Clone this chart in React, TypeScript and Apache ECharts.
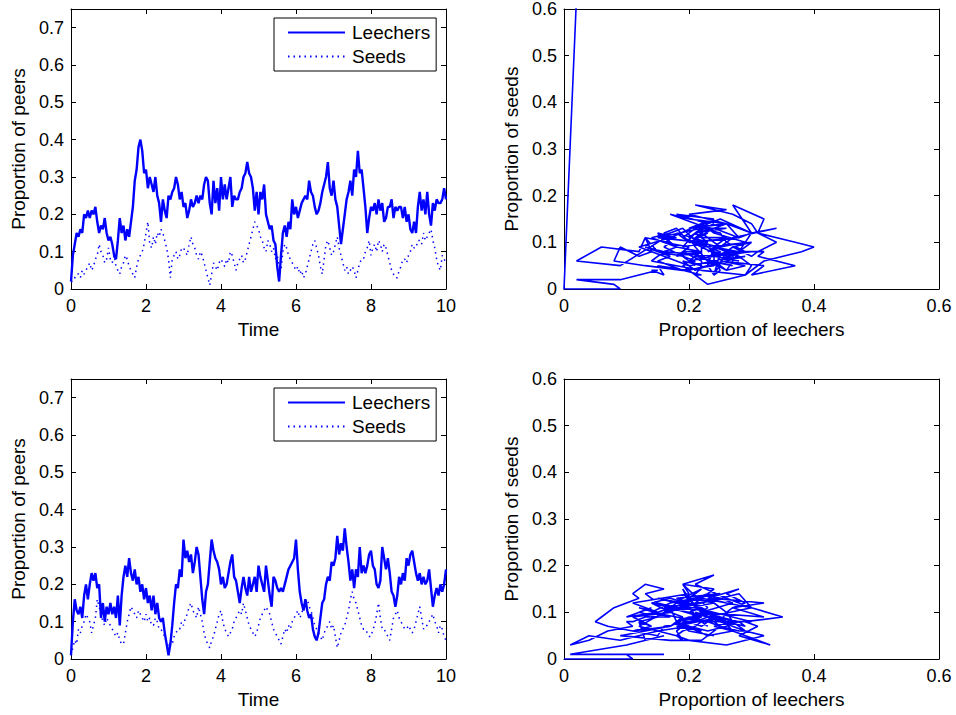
import React, { useEffect, useRef } from "react";
import * as echarts from "echarts";

// Time step between consecutive samples (time axis runs 0..10)
const TIME_STEP = 0.05;

// Run 1 (top row)
const LEECHERS_1 = [
  0.02,0.09,0.12,0.15,0.14,0.16,0.15,0.20,0.19,0.21,0.19,0.21,0.20,0.22,0.18,0.15,0.17,0.16,0.19,0.15,
  0.13,0.14,0.12,0.09,0.08,0.13,0.19,0.15,0.17,0.13,0.16,0.14,0.18,0.22,0.29,0.32,0.38,0.40,0.37,0.31,
  0.32,0.27,0.30,0.28,0.26,0.30,0.25,0.23,0.18,0.24,0.21,0.19,0.25,0.24,0.26,0.27,0.30,0.28,0.24,0.26,
  0.22,0.23,0.19,0.21,0.24,0.22,0.23,0.25,0.23,0.25,0.24,0.28,0.30,0.29,0.23,0.20,0.29,0.23,0.27,0.21,
  0.30,0.24,0.28,0.24,0.27,0.30,0.22,0.25,0.24,0.24,0.26,0.27,0.30,0.31,0.34,0.31,0.30,0.27,0.21,0.26,
  0.20,0.26,0.24,0.28,0.20,0.18,0.16,0.17,0.13,0.12,0.06,0.02,0.09,0.15,0.17,0.14,0.18,0.16,0.24,0.20,
  0.22,0.19,0.21,0.23,0.24,0.25,0.24,0.29,0.26,0.25,0.22,0.20,0.21,0.23,0.26,0.28,0.30,0.34,0.27,0.25,
  0.29,0.24,0.22,0.17,0.12,0.16,0.20,0.24,0.26,0.29,0.25,0.32,0.30,0.37,0.31,0.32,0.27,0.22,0.15,0.19,
  0.22,0.21,0.23,0.20,0.24,0.21,0.23,0.18,0.19,0.22,0.22,0.24,0.19,0.22,0.21,0.22,0.22,0.19,0.22,0.18,
  0.20,0.16,0.15,0.18,0.15,0.22,0.26,0.21,0.24,0.20,0.26,0.20,0.17,0.23,0.21,0.24,0.23,0.23,0.24,0.27,
  0.24,
];
const SEEDS_1 = [
  0.02,0.02,0.03,0.04,0.04,0.03,0.05,0.04,0.05,0.06,0.07,0.05,0.06,0.08,0.09,0.12,0.10,0.09,0.07,0.08,
  0.11,0.08,0.07,0.09,0.06,0.05,0.04,0.06,0.07,0.09,0.08,0.06,0.05,0.04,0.03,0.06,0.08,0.09,0.10,0.12,
  0.15,0.18,0.12,0.11,0.14,0.12,0.15,0.14,0.16,0.15,0.13,0.11,0.08,0.03,0.08,0.09,0.10,0.08,0.09,0.11,
  0.11,0.10,0.09,0.12,0.14,0.12,0.11,0.09,0.08,0.10,0.09,0.07,0.05,0.03,0.01,0.04,0.07,0.06,0.05,0.07,
  0.08,0.07,0.06,0.08,0.07,0.10,0.09,0.07,0.05,0.07,0.08,0.09,0.07,0.08,0.10,0.12,0.14,0.16,0.18,0.17,
  0.16,0.14,0.13,0.11,0.10,0.13,0.12,0.10,0.11,0.08,0.09,0.06,0.05,0.10,0.12,0.11,0.09,0.08,0.07,0.06,
  0.05,0.06,0.04,0.05,0.03,0.04,0.06,0.08,0.10,0.12,0.13,0.11,0.09,0.06,0.04,0.08,0.12,0.13,0.11,0.09,
  0.10,0.12,0.14,0.11,0.09,0.07,0.05,0.06,0.04,0.05,0.06,0.05,0.03,0.05,0.07,0.08,0.08,0.10,0.11,0.13,
  0.09,0.11,0.12,0.10,0.13,0.12,0.10,0.12,0.11,0.09,0.07,0.05,0.04,0.03,0.03,0.05,0.06,0.08,0.08,0.07,
  0.09,0.10,0.12,0.11,0.11,0.13,0.13,0.12,0.15,0.13,0.14,0.15,0.16,0.13,0.11,0.08,0.06,0.05,0.09,0.08,
  0.07,
];

// Run 2 (bottom row)
const LEECHERS_2 = [
  0.01,0.10,0.16,0.13,0.12,0.14,0.11,0.17,0.20,0.16,0.20,0.23,0.21,0.23,0.19,0.20,0.11,0.15,0.10,0.14,
  0.12,0.15,0.12,0.14,0.11,0.17,0.09,0.17,0.22,0.25,0.22,0.27,0.23,0.21,0.24,0.20,0.22,0.18,0.20,0.16,
  0.19,0.15,0.17,0.13,0.17,0.12,0.15,0.11,0.10,0.11,0.07,0.04,0.01,0.04,0.09,0.15,0.20,0.19,0.24,0.22,
  0.32,0.27,0.29,0.26,0.28,0.23,0.26,0.30,0.28,0.22,0.16,0.12,0.18,0.20,0.26,0.32,0.29,0.27,0.26,0.24,
  0.20,0.22,0.19,0.20,0.23,0.26,0.28,0.22,0.21,0.18,0.15,0.19,0.22,0.19,0.17,0.22,0.18,0.20,0.22,0.18,
  0.25,0.22,0.20,0.18,0.25,0.21,0.17,0.14,0.22,0.21,0.19,0.18,0.19,0.18,0.20,0.22,0.24,0.25,0.26,0.27,
  0.32,0.24,0.18,0.15,0.13,0.16,0.13,0.11,0.12,0.08,0.06,0.05,0.07,0.11,0.15,0.16,0.20,0.22,0.21,0.26,
  0.25,0.27,0.33,0.28,0.31,0.29,0.35,0.30,0.26,0.21,0.24,0.19,0.24,0.22,0.30,0.23,0.25,0.23,0.25,0.28,
  0.29,0.25,0.24,0.20,0.19,0.21,0.30,0.27,0.24,0.27,0.23,0.18,0.17,0.14,0.17,0.22,0.20,0.23,0.21,0.27,
  0.25,0.28,0.29,0.26,0.23,0.21,0.23,0.20,0.22,0.20,0.21,0.24,0.19,0.14,0.17,0.19,0.17,0.20,0.18,0.20,
  0.24,
];
const SEEDS_2 = [
  0.01,0.03,0.05,0.04,0.08,0.07,0.09,0.10,0.12,0.11,0.10,0.07,0.09,0.11,0.16,0.14,0.12,0.10,0.09,0.11,
  0.10,0.09,0.08,0.07,0.06,0.07,0.05,0.04,0.04,0.07,0.10,0.12,0.14,0.13,0.12,0.11,0.13,0.12,0.11,0.10,
  0.12,0.10,0.11,0.09,0.09,0.11,0.10,0.08,0.08,0.07,0.06,0.04,0.03,0.05,0.04,0.06,0.07,0.08,0.08,0.10,
  0.09,0.11,0.12,0.14,0.15,0.13,0.12,0.11,0.14,0.12,0.10,0.07,0.05,0.04,0.03,0.05,0.06,0.08,0.10,0.12,
  0.13,0.10,0.08,0.07,0.06,0.07,0.08,0.10,0.11,0.12,0.13,0.12,0.15,0.13,0.11,0.09,0.08,0.07,0.06,0.07,
  0.09,0.11,0.12,0.13,0.14,0.13,0.12,0.10,0.08,0.07,0.06,0.05,0.04,0.06,0.08,0.07,0.09,0.08,0.10,0.11,
  0.12,0.13,0.11,0.12,0.14,0.15,0.16,0.14,0.13,0.11,0.09,0.08,0.07,0.06,0.05,0.07,0.08,0.09,0.10,0.08,
  0.09,0.06,0.03,0.05,0.07,0.08,0.09,0.11,0.13,0.16,0.18,0.16,0.15,0.13,0.11,0.09,0.08,0.08,0.07,0.06,
  0.06,0.08,0.09,0.12,0.15,0.11,0.08,0.08,0.07,0.06,0.05,0.08,0.11,0.12,0.13,0.11,0.10,0.09,0.08,0.08,
  0.09,0.08,0.07,0.08,0.10,0.12,0.14,0.11,0.08,0.09,0.09,0.10,0.11,0.12,0.10,0.09,0.07,0.09,0.08,0.06,
  0.05,
];

// Initial (leechers, seeds) states drawn before each trajectory in the phase plots
const PHASE_START_1: [number, number][] = [[0.032, 1.0], [0, 0], [0.09, 0], [0.08, 0.01]];
const PHASE_START_2: [number, number][] = [[0, 0], [0.11, 0], [0.1, 0.01], [0.16, 0.01]];

const LEGEND_NAMES = ["Leechers", "Seeds"];
const FONT = "'Liberation Sans', Arial, Helvetica, sans-serif";
const BLUE = "#0000ff";

function timeSeries(values: number[]) {
  return values.map((v, i) => [i * TIME_STEP, v]);
}
function phase(start: [number, number][], L: number[], S: number[]) {
  return [...start, ...L.map((l, i) => [l, S[i]])];
}

const GRIDS = [
  { left: 71, top: 9, width: 375, height: 280 },
  { left: 564, top: 9, width: 375, height: 280 },
  { left: 71, top: 379, width: 375, height: 280 },
  { left: 564, top: 379, width: 375, height: 280 },
];

function fmt(v: number) {
  return String(Math.round(v * 100) / 100);
}

function axes(g: number, x: [number, number, number], y: [number, number, number], xName: string, yName: string) {
  const line = { show: true, onZero: false, lineStyle: { color: "#000", width: 1 } };
  const tick = { show: true, inside: true, length: 5, lineStyle: { color: "#000", width: 1 } };
  const label = { fontSize: 18, color: "#000", fontFamily: FONT, formatter: fmt };
  const nameStyle = { fontSize: 19, color: "#000", fontFamily: FONT };
  const xa = [
    {
      type: "value", gridIndex: g, position: "bottom", min: x[0], max: x[1], interval: x[2],
      name: xName, nameLocation: "middle", nameGap: 31, nameTextStyle: nameStyle,
      axisLine: line, axisTick: tick, axisLabel: { ...label, margin: 8, showMaxLabel: true },
      splitLine: { show: false },
    },
    {
      type: "value", gridIndex: g, position: "top", min: x[0], max: x[1], interval: x[2],
      axisLine: line, axisTick: tick, axisLabel: { show: false }, splitLine: { show: false },
    },
  ];
  const ya = [
    {
      type: "value", gridIndex: g, position: "left", min: y[0], max: y[1], interval: y[2],
      name: yName, nameLocation: "middle", nameGap: 43, nameTextStyle: nameStyle,
      axisLine: line, axisTick: tick,
      axisLabel: { ...label, margin: 7, showMaxLabel: y[1] === 0.6 },
      splitLine: { show: false },
    },
    {
      type: "value", gridIndex: g, position: "right", min: y[0], max: y[1], interval: y[2],
      axisLine: line, axisTick: tick, axisLabel: { show: false }, splitLine: { show: false },
    },
  ];
  return { xa, ya };
}

export default function App() {
  const ref = useRef<HTMLDivElement>(null);
  useEffect(() => {
    if (!ref.current) return;
    const chart = echarts.init(ref.current, undefined, { renderer: "svg" });
    const a0 = axes(0, [0, 10, 2], [0, 0.75, 0.1], "Time", "Proportion of peers");
    const a1 = axes(1, [0, 0.6, 0.2], [0, 0.6, 0.1], "Proportion of leechers", "Proportion of seeds");
    const a2 = axes(2, [0, 10, 2], [0, 0.75, 0.1], "Time", "Proportion of peers");
    const a3 = axes(3, [0, 0.6, 0.2], [0, 0.6, 0.1], "Proportion of leechers", "Proportion of seeds");

    const leechLine = { color: BLUE, width: 2.4 };
    const seedLine = { color: BLUE, width: 1.5, type: [1.5, 4] };
    const phaseLine = { color: BLUE, width: 1.6 };
    const common = { type: "line", symbol: "none", showSymbol: false, color: BLUE, clip: true };

    const legendBase = {
      data: LEGEND_NAMES,
      orient: "vertical",
      left: 274,
      itemWidth: 57,
      itemHeight: 14,
      itemGap: 5,
      padding: [5, 6, 5, 13],
      borderColor: "#000",
      borderWidth: 1,
      borderRadius: 0,
      backgroundColor: "#fff",
      selectedMode: false,
      itemStyle: { opacity: 0, borderWidth: 0 },
      textStyle: { fontSize: 19, color: "#000", fontFamily: FONT, padding: [0, 0, 0, 2] },
    };

    chart.setOption({
      animation: false,
      backgroundColor: "#fff",
      textStyle: { fontFamily: FONT },
      grid: GRIDS.map((g) => ({ ...g, containLabel: false, show: false })),
      xAxis: [...a0.xa, ...a1.xa, ...a2.xa, ...a3.xa],
      yAxis: [...a0.ya, ...a1.ya, ...a2.ya, ...a3.ya],
      legend: [
        { ...legendBase, top: 18 },
        { ...legendBase, top: 388 },
      ],
      series: [
        { ...common, name: "Leechers", xAxisIndex: 0, yAxisIndex: 0, data: timeSeries(LEECHERS_1), lineStyle: leechLine, z: 3 },
        { ...common, name: "Seeds", xAxisIndex: 0, yAxisIndex: 0, data: timeSeries(SEEDS_1), lineStyle: seedLine, z: 2 },
        { ...common, name: "phase1", xAxisIndex: 2, yAxisIndex: 2, data: phase(PHASE_START_1, LEECHERS_1, SEEDS_1), lineStyle: phaseLine },
        { ...common, name: "Leechers", xAxisIndex: 4, yAxisIndex: 4, data: timeSeries(LEECHERS_2), lineStyle: leechLine, z: 3 },
        { ...common, name: "Seeds", xAxisIndex: 4, yAxisIndex: 4, data: timeSeries(SEEDS_2), lineStyle: seedLine, z: 2 },
        { ...common, name: "phase2", xAxisIndex: 6, yAxisIndex: 6, data: phase(PHASE_START_2, LEECHERS_2, SEEDS_2), lineStyle: phaseLine },
      ],
    });
    return () => chart.dispose();
  }, []);
  return (
    <div
      ref={ref}
      style={{ position: "absolute", left: 0, top: 0, width: 956, height: 715, background: "#fff" }}
    />
  );
}
